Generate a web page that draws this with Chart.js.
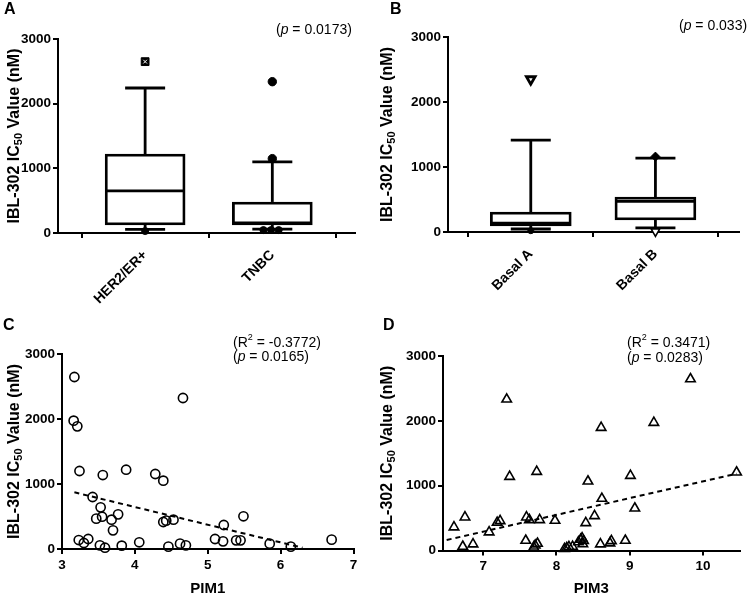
<!DOCTYPE html>
<html><head><meta charset="utf-8">
<script src="https://cdn.jsdelivr.net/npm/chart.js@4.4.1/dist/chart.umd.min.js"></script>
<style>
html,body{margin:0;padding:0;background:#fff;}
#wrap{position:relative;width:747px;height:596px;background:#fff;overflow:hidden;}
canvas{position:absolute;}
</style></head><body>
<div id="wrap">
<canvas id="cA" width="373" height="312" style="left:0;top:0;width:373px;height:312px"></canvas>
<canvas id="cB" width="374" height="312" style="left:373px;top:0;width:374px;height:312px"></canvas>
<canvas id="cC" width="373" height="296" style="left:0;top:300px;width:373px;height:296px"></canvas>
<canvas id="cD" width="374" height="296" style="left:373px;top:300px;width:374px;height:296px"></canvas>
</div>
<script>
// ---------- DATA ----------
const yTicks = [0, 1000, 2000, 3000];

// Panel A (box plot)
const groupsA = ['HER2/ER+', 'TNBC'];
const q1A = [124, 124];
const medA = [650, 155];
const q3A = [1220, 480];
const whLoA = [55, 60];
const whHiA = [2242, 1100];
const outHer2 = [2650];
const outTnbc = [2340, 1150];
const lowHer2 = [30];
const lowTnbc = [45, 45, 45];
const lowTnbcPos = [1.93, 1.99, 2.05];

// Panel B (box plot)
const groupsB = ['Basal A', 'Basal B'];
const q1B = [92, 185];
const medB = [138, 470];
const q3B = [308, 538];
const whLoB = [46, 62];
const whHiB = [1415, 1138];
const outBasalA = [2350];
const lowBasalA = [20];
const topBasalB = [1160];
const lowBasalB = [10];

// Panel C (PIM1 vs IC50)
const pim1 = [3.17,3.16,3.21,3.24,3.23,3.30,3.36,3.42,3.47,3.53,3.55,3.52,3.59,3.56,3.68,3.70,3.77,3.82,3.88,4.06,4.28,4.39,4.39,4.43,4.46,4.53,4.66,4.62,4.70,5.10,5.21,5.22,5.39,5.45,5.49,5.85,6.14,6.70];
const icC  = [2646,1974,1887,1200,138,92,154,800,467,641,497,56,20,1138,451,287,533,51,1220,103,1154,1051,415,436,36,451,2323,82,56,154,118,369,133,133,503,82,36,144];
const trendCx = [3.17, 6.30];
const trendCy = [872, 20];
const xTicksC = [3, 4, 5, 6, 7];

// Panel D (PIM3 vs IC50)
const pim3 = [6.60,6.72,6.75,6.86,7.08,7.19,7.23,7.32,7.36,7.58,7.59,7.63,7.69,7.71,7.73,7.74,7.77,7.98,8.11,8.14,8.17,8.22,8.30,8.33,8.35,8.37,8.36,8.40,8.43,8.52,8.60,8.61,8.62,8.73,8.75,8.94,9.01,9.07,9.33,9.83,10.46];
const icD  = [360,62,514,98,283,431,457,2332,1140,154,514,473,51,80,1217,108,473,462,26,40,55,60,130,170,190,150,100,426,1068,534,98,1895,801,113,149,154,1155,652,1972,2645,1207];
const trendDx = [6.5, 10.46];
const trendDy = [162, 1185];
const xTicksD = [7, 8, 9, 10];

// ---------- HELPERS ----------
const FF = "'Liberation Sans', Arial, Helvetica, sans-serif";
Chart.defaults.font.family = FF;
Chart.defaults.color = '#000';

function segFont(st){
  if (st === 'b') return 'bold 16px ' + FF;
  if (st === 'bsub') return 'bold 11px ' + FF;
  if (st === 'i') return 'italic 14px ' + FF;
  if (st === 'sup') return '9px ' + FF;
  if (st === 'bx') return 'bold 15px ' + FF;
  return '14px ' + FF;
}
function segOff(st){ return st === 'bsub' ? 4 : (st === 'sup' ? -5 : 0); }
function drawSegs(ctx, segs, x, y, align){
  let total = 0;
  segs.forEach(s => { ctx.font = segFont(s[1]); total += ctx.measureText(s[0]).width; });
  let cx = align === 'center' ? x - total / 2 : x;
  ctx.textAlign = 'left'; ctx.textBaseline = 'middle';
  segs.forEach(s => { ctx.font = segFont(s[1]); ctx.fillText(s[0], cx, y + segOff(s[1])); cx += ctx.measureText(s[0]).width; });
}

const textPlugin = {
  id: 'paneltext',
  afterDraw(chart, args, o){
    const ctx = chart.ctx, a = chart.chartArea;
    ctx.save();
    ctx.fillStyle = '#000';
    ctx.font = 'bold 16px ' + FF; ctx.textBaseline = 'top'; ctx.textAlign = 'left';
    ctx.fillText(o.letter, o.lx, o.ly);
    (o.notes || []).forEach(n => drawSegs(ctx, n.segs, n.x, n.y, 'left'));
    if (o.xTitle) drawSegs(ctx, [[o.xTitle, 'bx']], (a.left + a.right) / 2, o.xTitleY, 'center');
    ctx.translate(o.ytx, (a.top + a.bottom) / 2);
    ctx.rotate(-Math.PI / 2);
    drawSegs(ctx, [['IBL-302 IC', 'b'], ['50', 'bsub'], [' Value (nM)', 'b']], 0, 0, 'center');
    ctx.restore();
  }
};

const boxPlugin = {
  id: 'boxdraw',
  afterDatasetDraw(chart, args, o){
    if (args.index !== 0 || !o.q1) return;
    const ctx = chart.ctx, x = chart.scales.x, y = chart.scales.y;
    ctx.save();
    ctx.strokeStyle = '#000'; ctx.lineWidth = 2.8; ctx.lineCap = 'butt';
    const ln = (x1, y1, x2, y2) => { ctx.beginPath(); ctx.moveTo(x1, y1); ctx.lineTo(x2, y2); ctx.stroke(); };
    o.pos.forEach((p, i) => {
      const px = x.getPixelForValue(p);
      const hb = o.boxW / 2 - 1, hc = o.capW / 2;
      const ym = y.getPixelForValue(o.med[i]);
      ln(px - hb, ym, px + hb, ym);
      const yq3 = y.getPixelForValue(o.q3[i]), yhi = y.getPixelForValue(o.hi[i]);
      ln(px, yq3, px, yhi); ln(px - hc, yhi, px + hc, yhi);
      const yq1 = y.getPixelForValue(o.q1[i]), ylo = y.getPixelForValue(o.lo[i]);
      ln(px, yq1, px, ylo); ln(px - hc, ylo, px + hc, ylo);
    });
    ctx.restore();
  }
};

function yScale(leftW){
  return {
    type: 'linear', min: 0, max: 3000,
    afterBuildTicks: s => { s.ticks = yTicks.map(v => ({ value: v })); },
    afterFit: s => { s.width = leftW; },
    ticks: { font: { size: 13.5, weight: 'bold' }, color: '#000', padding: 2, callback: v => String(v) },
    grid: { drawOnChartArea: false, drawTicks: true, tickLength: 5, color: '#000', tickWidth: 2, lineWidth: 2 },
    border: { color: '#000', width: 2 }
  };
}

function makeBox(id, c){
  const W = c.W, H = c.H, xH = 76;
  const pts = c.points.map(p => ({
    type: 'scatter', order: p.order !== undefined ? p.order : 0, clip: false,
    data: p.v.map((v, k) => ({ x: p.x[k], y: v })),
    pointStyle: p.style, rotation: p.rot || 0, pointRadius: p.r,
    backgroundColor: p.fill, borderColor: p.stroke || '#000', borderWidth: p.bw || 1,
    pointHoverRadius: p.r
  }));
  new Chart(document.getElementById(id), {
    type: 'bar',
    data: {
      datasets: [{
        type: 'bar', order: 5,
        data: c.q1.map((q, i) => ({ x: i + 1, y: [q, c.q3[i]] })),
        backgroundColor: '#fff', borderColor: '#000', borderWidth: 2.8, borderSkipped: false,
        barThickness: c.boxW
      }].concat(pts)
    },
    options: {
      responsive: false, animation: false, events: [],
      layout: { padding: { left: 0, top: c.area.top, right: W - c.area.right, bottom: H - c.area.bottom - xH } },
      plugins: {
        legend: { display: false }, tooltip: { enabled: false },
        boxdraw: { pos: [1, 2], q1: c.q1, med: c.med, q3: c.q3, lo: c.lo, hi: c.hi, boxW: c.boxW, capW: 40 },
        paneltext: c.text
      },
      scales: {
        x: {
          type: 'linear', min: c.xmin, max: c.xmax, offset: false,
          afterBuildTicks: s => { s.ticks = [{ value: 1 }, { value: 2 }]; },
          afterFit: s => { s.height = xH; },
          ticks: { callback: v => c.groups[v - 1], minRotation: 45, maxRotation: 45, autoSkip: false,
                   font: { size: 14, weight: 'bold' }, color: '#000', padding: 9 },
          grid: { drawOnChartArea: false, drawTicks: true, tickLength: 5, color: '#000', tickWidth: 2, lineWidth: 2 },
          border: { color: '#000', width: 2 }
        },
        y: yScale(c.area.left)
      }
    },
    plugins: [boxPlugin, textPlugin]
  });
}

function makeScatter(id, c){
  const W = c.W, H = c.H, xH = H - c.area.bottom;
  new Chart(document.getElementById(id), {
    type: 'scatter',
    data: {
      datasets: [
        { data: c.xs.map((v, i) => ({ x: v, y: c.ys[i] })), pointStyle: c.style, pointRadius: c.r,
          pointHoverRadius: c.r, backgroundColor: 'rgba(0,0,0,0)', borderColor: '#000', borderWidth: 1.6, clip: false, order: 0 },
        { data: c.tx.map((v, i) => ({ x: v, y: c.ty[i] })), showLine: true, pointRadius: 0, borderColor: '#000',
          borderWidth: 2, borderDash: [5, 4], clip: false, order: 1 }
      ]
    },
    options: {
      responsive: false, animation: false, events: [],
      layout: { padding: { left: 0, top: c.area.top, right: W - c.area.right, bottom: 0 } },
      plugins: { legend: { display: false }, tooltip: { enabled: false }, paneltext: c.text },
      scales: {
        x: {
          type: 'linear', min: c.xmin, max: c.xmax,
          afterBuildTicks: s => { s.ticks = c.xt.map(v => ({ value: v })); },
          afterFit: s => { s.height = xH; },
          ticks: { font: { size: 13.5, weight: 'bold' }, color: '#000', padding: 3 },
          grid: { drawOnChartArea: false, drawTicks: true, tickLength: 5, color: '#000', tickWidth: 2, lineWidth: 2 },
          border: { color: '#000', width: 2 }
        },
        y: yScale(c.area.left)
      }
    },
    plugins: [textPlugin]
  });
}

// ---------- CHARTS ----------
makeBox('cA', {
  W: 373, H: 312, area: { left: 58, top: 39, right: 355, bottom: 233 },
  xmin: 0.315, xmax: 2.65, boxW: 80, groups: groupsA,
  q1: q1A, med: medA, q3: q3A, lo: whLoA, hi: whHiA,
  points: [
    { x: [1], v: outHer2, style: 'rect', r: 5.5, fill: '#000', stroke: '#000', bw: 1, order: 1 },
    { x: [1], v: outHer2, style: 'crossRot', r: 2.6, fill: '#fff', stroke: '#fff', bw: 1, order: -1 },
    { x: [2, 2], v: outTnbc, style: 'circle', r: 4.2, fill: '#000' },
    { x: [1], v: lowHer2, style: 'circle', r: 3.5, fill: '#000' },
    { x: lowTnbcPos, v: lowTnbc, style: 'circle', r: 3.5, fill: '#000' }
  ],
  text: { letter: 'A', lx: 4, ly: 2, ytx: 15,
          notes: [{ x: 276, y: 30, segs: [['(', 'n'], ['p', 'i'], [' = 0.0173)', 'n']] }] }
});

makeBox('cB', {
  W: 374, H: 312, area: { left: 75, top: 37, right: 367, bottom: 232 },
  xmin: 0.336, xmax: 2.672, boxW: 81, groups: groupsB,
  q1: q1B, med: medB, q3: q3B, lo: whLoB, hi: whHiB,
  points: [
    { x: [1], v: outBasalA, style: 'triangle', rot: 180, r: 5, fill: '#fff', stroke: '#000', bw: 2.8 },
    { x: [1], v: lowBasalA, style: 'circle', r: 3, fill: '#000' },
    { x: [2], v: topBasalB, style: 'rectRot', r: 4.5, fill: '#000' },
    { x: [2], v: lowBasalB, style: 'triangle', rot: 180, r: 5, fill: '#fff', stroke: '#000', bw: 1.6 }
  ],
  text: { letter: 'B', lx: 17, ly: 2, ytx: 15,
          notes: [{ x: 306, y: 26, segs: [['(', 'n'], ['p', 'i'], [' = 0.033)', 'n']] }] }
});

makeScatter('cC', {
  W: 373, H: 296, area: { left: 62, top: 54, right: 353.5, bottom: 249 },
  xmin: 3, xmax: 7, xt: xTicksC, xs: pim1, ys: icC, tx: trendCx, ty: trendCy,
  style: 'circle', r: 4.6,
  text: { letter: 'C', lx: 3, ly: 18, ytx: 15, xTitle: 'PIM1', xTitleY: 289,
          notes: [
            { x: 233, y: 43, segs: [['(R', 'n'], ['2', 'sup'], [' = -0.3772)', 'n']] },
            { x: 233, y: 57, segs: [['(', 'n'], ['p', 'i'], [' = 0.0165)', 'n']] }
          ] }
});

makeScatter('cD', {
  W: 374, H: 296, area: { left: 70, top: 56, right: 366.5, bottom: 250.5 },
  xmin: 6.45, xmax: 10.5, xt: xTicksD, xs: pim3, ys: icD, tx: trendDx, ty: trendDy,
  style: 'triangle', r: 5.5,
  text: { letter: 'D', lx: 10, ly: 18, ytx: 15, xTitle: 'PIM3', xTitleY: 289,
          notes: [
            { x: 254, y: 43, segs: [['(R', 'n'], ['2', 'sup'], [' = 0.3471)', 'n']] },
            { x: 254, y: 58, segs: [['(', 'n'], ['p', 'i'], [' = 0.0283)', 'n']] }
          ] }
});
</script>
</body></html>
